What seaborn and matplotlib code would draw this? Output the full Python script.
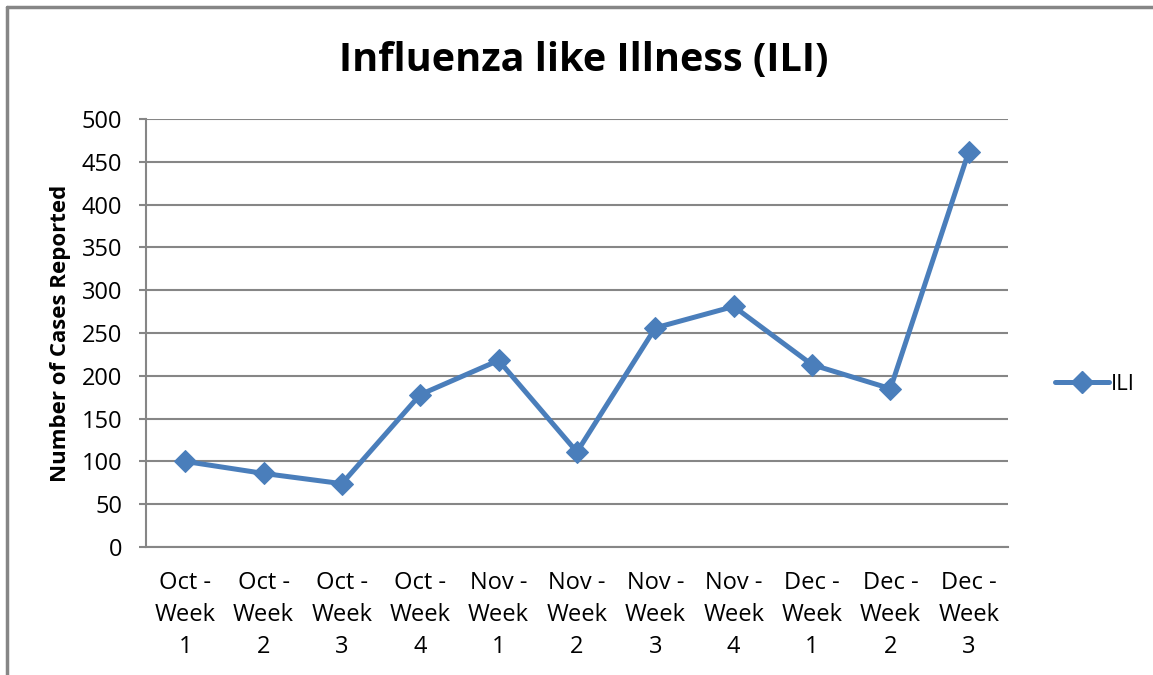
import matplotlib
matplotlib.use("Agg")
import matplotlib.pyplot as plt
import matplotlib.lines as mlines
import pandas as pd
import seaborn as sns

# 数据
weeks = ["Oct -\nWeek\n1", "Oct -\nWeek\n2", "Oct -\nWeek\n3", "Oct -\nWeek\n4",
         "Nov -\nWeek\n1", "Nov -\nWeek\n2", "Nov -\nWeek\n3", "Nov -\nWeek\n4",
         "Dec -\nWeek\n1", "Dec -\nWeek\n2", "Dec -\nWeek\n3"]
ili_cases = [100, 86, 74, 178, 218, 111, 256, 281, 213, 185, 462]
y_ticks = [0, 50, 100, 150, 200, 250, 300, 350, 400, 450, 500]

sns.set_theme(style="white")
plt.rcParams['font.family'] = ['Open Sans', 'DejaVu Sans']
plt.rcParams['text.color'] = 'black'
plt.rcParams['xtick.color'] = 'black'
plt.rcParams['ytick.color'] = 'black'
plt.rcParams['axes.labelcolor'] = 'black'

line_color = '#4a7ebb'
grid_color = '#868686'

df = pd.DataFrame({'week': range(len(weeks)), 'cases': ili_cases})

fig = plt.figure(figsize=(11.53, 6.75), dpi=100)
ax = fig.add_axes([0.1266, 0.1896, 0.7476, 0.6341])

sns.lineplot(data=df, x='week', y='cases', ax=ax, color=line_color,
             linewidth=3.6, marker='D', markersize=11,
             markeredgecolor=line_color, markerfacecolor=line_color,
             label='ILI', legend=False)

ax.set_xlim(-0.5, len(weeks) - 0.5)
ax.set_ylim(0, 500)
ax.set_yticks(y_ticks)
ax.set_xticks(range(len(weeks)))
ax.set_xticklabels(weeks, fontsize=17, linespacing=1.45)
ax.tick_params(axis='y', labelsize=17, length=5, width=1.5, color=grid_color,
               labelcolor='black', left=True, pad=12)
ax.tick_params(axis='x', length=0, pad=17, labelcolor='black')

ax.grid(axis='y', color=grid_color, linewidth=1.5)
ax.set_axisbelow(True)
for side in ['top', 'right']:
    ax.spines[side].set_visible(False)
for side in ['left', 'bottom']:
    ax.spines[side].set_color(grid_color)
    ax.spines[side].set_linewidth(1.5)

ax.set_xlabel('')
ax.set_ylabel('Number of Cases Reported', fontsize=16, fontweight='bold',
              labelpad=8, color='black')

fig.text(0.506, 0.911, 'Influenza like Illness (ILI)', ha='center', va='center',
         fontsize=28.5, fontweight='bold', color='black')

# 图例
handle = mlines.Line2D([], [], color=line_color, linewidth=3.6, marker='D',
                       markersize=11)
fig.legend([handle], ['ILI'], loc='center left', bbox_to_anchor=(0.898, 0.43),
           frameon=False, fontsize=16, handlelength=2.4, handletextpad=0.1,
           labelcolor='black')

# 外框
fig.add_artist(mlines.Line2D([0.006, 1.0], [0.9896, 0.9896], color=grid_color,
                             linewidth=2.5, transform=fig.transFigure))
fig.add_artist(mlines.Line2D([0.006, 0.006], [0.0, 0.9896], color=grid_color,
                             linewidth=2.5, transform=fig.transFigure))

fig.savefig('out.png', dpi=100)
